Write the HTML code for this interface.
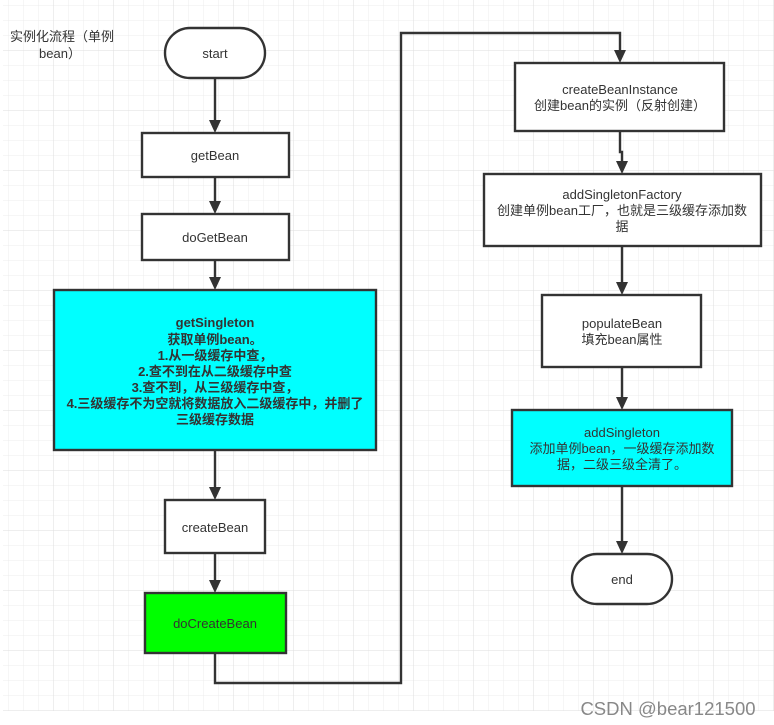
<!DOCTYPE html>
<html><head><meta charset="utf-8"><style>
html,body{margin:0;padding:0;background:#fff;}
svg{display:block;}
text{font-family:"Liberation Sans","Noto Sans CJK SC",sans-serif;font-size:13px;fill:#333;}
</style></head><body>
<svg width="774" height="725" viewBox="0 0 774 725" xmlns="http://www.w3.org/2000/svg">
<defs>
<pattern id="g" x="8" y="5" width="15" height="15" patternUnits="userSpaceOnUse">
<path d="M0 0V15M0 0H15" stroke="#ececec" stroke-width="1" fill="none"/>
</pattern>
<pattern id="G" x="53" y="50" width="60" height="60" patternUnits="userSpaceOnUse">
<path d="M0 0V60M0 0H60" stroke="#dedede" stroke-width="1" fill="none"/>
</pattern>
</defs>
<rect x="3" y="0" width="771" height="711" fill="url(#g)"/>
<rect x="3" y="0" width="771" height="711" fill="url(#G)"/>
<g stroke="#333" stroke-width="2.4" fill="none">
<path d="M215 78V121"/>
<path d="M215 177V202"/>
<path d="M215 260V278"/>
<path d="M215 450V488"/>
<path d="M215 553V581"/>
<path d="M215 653V683H401V33H620V51"/>
<path d="M620 131V152H622V162"/>
<path d="M622 246V283"/>
<path d="M622 367V398"/>
<path d="M622 486V542"/>
</g>
<g fill="#333">
<path d="M209 120h12l-6 13z"/>
<path d="M209 201h12l-6 13z"/>
<path d="M209 277h12l-6 13z"/>
<path d="M209 487h12l-6 13z"/>
<path d="M209 580h12l-6 13z"/>
<path d="M614 50h12l-6 13z"/>
<path d="M616 161h12l-6 13z"/>
<path d="M616 282h12l-6 13z"/>
<path d="M616 397h12l-6 13z"/>
<path d="M616 541h12l-6 13z"/>
</g>
<g stroke="#333" stroke-width="2.4">
<rect x="165" y="28" width="100" height="50" rx="25" fill="#fff"/>
<rect x="142" y="133" width="147" height="44" fill="#fff"/>
<rect x="142" y="214" width="147" height="46" fill="#fff"/>
<rect x="54" y="290" width="322" height="160" fill="#00ffff"/>
<rect x="165" y="500" width="100" height="53" fill="#fff"/>
<rect x="145" y="593" width="141" height="60" fill="#00ff00"/>
<rect x="515" y="63" width="209" height="68" fill="#fff"/>
<rect x="484" y="174" width="277" height="72" fill="#fff"/>
<rect x="542" y="295" width="159" height="72" fill="#fff"/>
<rect x="512" y="410" width="220" height="76" fill="#00ffff"/>
<rect x="572" y="554" width="100" height="50" rx="25" fill="#fff"/>
</g>
<g text-anchor="middle">
<text x="62" y="41">实例化流程（单例</text>
<text x="60" y="58">bean）</text>
<text x="215" y="58">start</text>
<text x="215" y="160">getBean</text>
<text x="215" y="242">doGetBean</text>
<g style="font-weight:bold">
<text x="215" y="327">getSingleton</text>
<text x="215" y="344">获取单例bean。</text>
<text x="215" y="360">1.从一级缓存中查，</text>
<text x="215" y="376">2.查不到在从二级缓存中查</text>
<text x="215" y="392">3.查不到，从三级缓存中查，</text>
<text x="215" y="408">4.三级缓存不为空就将数据放入二级缓存中，并删了</text>
<text x="215" y="424">三级缓存数据</text>
</g>
<text x="215" y="532">createBean</text>
<text x="215" y="628">doCreateBean</text>
<text x="620" y="94">createBeanInstance</text>
<text x="620" y="110">创建bean的实例（反射创建）</text>
<text x="622" y="199">addSingletonFactory</text>
<text x="622" y="215">创建单例bean工厂，也就是三级缓存添加数</text>
<text x="622" y="231">据</text>
<text x="622" y="328">populateBean</text>
<text x="622" y="344">填充bean属性</text>
<text x="622" y="437">addSingleton</text>
<text x="622" y="453">添加单例bean，一级缓存添加数</text>
<text x="622" y="469">据，二级三级全清了。</text>
<text x="622" y="584">end</text>
<text x="668" y="715" style="font-size:18.5px;fill:#888">CSDN @bear121500</text>
</g>
</svg>
</body></html>
